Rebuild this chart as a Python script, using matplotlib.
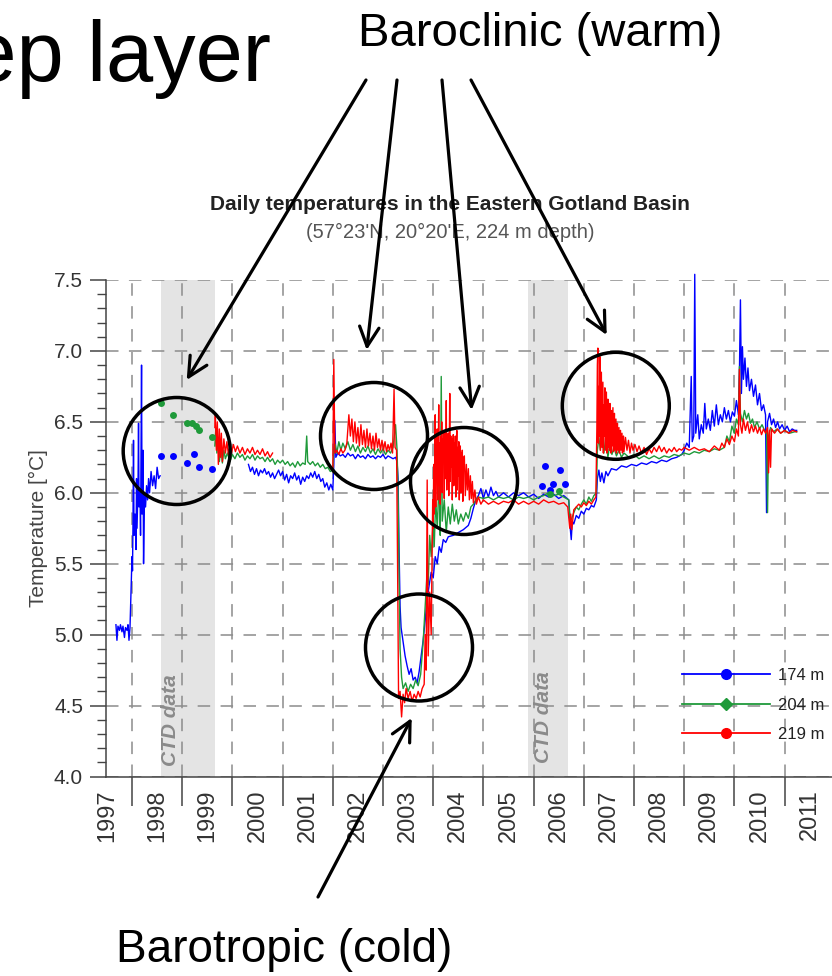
import numpy as np
import matplotlib
matplotlib.use("Agg")
import matplotlib.pyplot as plt
from matplotlib import font_manager as fm
from matplotlib.patches import Ellipse
from matplotlib.lines import Line2D

_names = {f.name for f in fm.fontManager.ttflist}
SANS = "Liberation Sans" if "Liberation Sans" in _names else "DejaVu Sans"
NARROW = "Liberation Sans Narrow" if "Liberation Sans Narrow" in _names else SANS
plt.rcParams["font.family"] = [SANS, "DejaVu Sans"]
plt.rcParams["lines.scale_dashes"] = False

NAN = float("nan")

# ---- daily bottom-water temperature records: (decimal year, degC) ----
t_174 = [
    1997.68, 1997.70, 1997.72, 1997.75, 1997.77, 1997.80, 1997.82, 1997.85, 1997.87, 1997.90,
    1997.92, 1997.94, 1997.96, 1997.98, 1998.00, 1998.01, 1998.02, 1998.03, 1998.04, 1998.06,
    1998.08, 1998.09, 1998.10, 1998.12, 1998.13, 1998.14, 1998.16, 1998.17, 1998.19, 1998.20,
    1998.22, 1998.23, 1998.25, 1998.27, 1998.29, 1998.31, 1998.33, 1998.35, 1998.38, 1998.41,
    1998.44, 1998.47, 1998.50, 1998.53, 1998.56, 1999.40,
    2000.32, 2000.36, 2000.40, 2000.44, 2000.48, 2000.52, 2000.56, 2000.60, 2000.64, 2000.68,
    2000.72, 2000.76, 2000.80, 2000.84, 2000.88, 2000.92, 2000.96, 2001.00, 2001.04, 2001.08,
    2001.12, 2001.16, 2001.20, 2001.24, 2001.28, 2001.32, 2001.36, 2001.40, 2001.44, 2001.48,
    2001.52, 2001.56, 2001.60, 2001.64, 2001.68, 2001.72, 2001.76, 2001.80, 2001.84, 2001.88,
    2001.92, 2001.96, 2002.00, 2002.02, 2002.04, 2002.06, 2002.10, 2002.15, 2002.20, 2002.25,
    2002.30, 2002.35, 2002.40, 2002.45, 2002.50, 2002.55, 2002.60, 2002.65, 2002.70, 2002.75,
    2002.80, 2002.85, 2002.90, 2002.95, 2003.00, 2003.05, 2003.10, 2003.15, 2003.20, 2003.25,
    2003.28, 2003.30, 2003.32, 2003.34, 2003.36, 2003.40, 2003.44, 2003.48, 2003.52, 2003.56,
    2003.60, 2003.64, 2003.68, 2003.72, 2003.76, 2003.80, 2003.84, 2003.88, 2003.92, 2003.96,
    2004.00, 2004.04, 2004.08, 2004.12, 2004.16, 2004.20, 2004.25, 2004.30, 2004.40, 2004.50,
    2004.60, 2004.70, 2004.75, 2004.80, 2004.85, 2004.90, 2004.95, 2005.00, 2005.05, 2005.10,
    2005.15, 2005.20, 2005.25, 2005.30, 2005.40, 2005.50, 2005.60, 2005.70, 2005.80, 2005.90,
    2006.00, 2006.10, 2006.20, 2006.30, 2006.40, 2006.50, 2006.60, 2006.70, 2006.73, 2006.75,
    2006.77, 2006.80, 2006.85, 2006.90, 2006.95, 2007.00, 2007.05, 2007.10, 2007.15, 2007.20,
    2007.25, 2007.27, 2007.30, 2007.33, 2007.36, 2007.40, 2007.44, 2007.48, 2007.55, 2007.65,
    2007.75, 2007.85, 2007.95, 2008.05, 2008.15, 2008.25, 2008.35, 2008.45, 2008.55, 2008.65,
    2008.75, 2008.85, 2008.95, 2009.00, 2009.05, 2009.10, 2009.14, 2009.16, 2009.19, 2009.21,
    2009.23, 2009.27, 2009.30, 2009.34, 2009.38, 2009.41, 2009.44, 2009.48, 2009.52, 2009.56,
    2009.60, 2009.64, 2009.68, 2009.72, 2009.76, 2009.80, 2009.84, 2009.88, 2009.92, 2009.96,
    2010.00, 2010.04, 2010.08, 2010.10, 2010.12, 2010.14, 2010.16, 2010.18, 2010.21, 2010.24,
    2010.27, 2010.30, 2010.34, 2010.38, 2010.42, 2010.46, 2010.50, 2010.54, 2010.58, 2010.62,
    2010.64, 2010.66, 2010.70, 2010.74, 2010.78, 2010.82, 2010.86, 2010.90, 2010.95, 2011.00,
    2011.05, 2011.10, 2011.15, 2011.20, 2011.24,
]
v_174 = [
    5.07, 4.96, 5.06, 5.03, 5.07, 5.02, 5.06, 4.98, 5.05, 5.03,
    5.07, 4.96, 5.05, 5.30, 5.55, 5.45, 5.80, 6.37, 5.70, 5.85,
    5.60, 6.10, 5.75, 6.05, 6.49, 5.90, 6.00, 5.70, 6.90, 5.85,
    6.30, 5.50, 6.00, 5.90, 6.05, 5.95, 6.10, 6.00, 6.15, 6.05,
    6.12, 6.03, 6.18, 6.10, 6.12, NAN,
    6.20, 6.15, 6.18, 6.13, 6.17, 6.12, 6.16, 6.14, 6.17, 6.13,
    6.15, 6.11, 6.14, 6.10, 6.13, 6.16, 6.12, 6.15, 6.09, 6.13,
    6.07, 6.12, 6.10, 6.14, 6.09, 6.12, 6.06, 6.11, 6.08, 6.12,
    6.10, 6.14, 6.11, 6.15, 6.10, 6.13, 6.08, 6.10, 6.04, 6.07,
    6.02, 6.06, 6.02, 6.20, 6.51, 6.25, 6.28, 6.26, 6.27, 6.25,
    6.28, 6.26, 6.27, 6.24, 6.27, 6.25, 6.26, 6.24, 6.27, 6.25,
    6.26, 6.24, 6.26, 6.25, 6.27, 6.24, 6.26, 6.25, 6.24, 6.25,
    6.22, 6.10, 5.60, 5.20, 5.05, 4.95, 4.85, 4.78, 4.72, 4.76,
    4.68, 4.70, 4.66, 4.74, 4.85, 4.96, 5.10, 5.25, 5.35, 5.44,
    5.40, 5.55, 5.50, 5.62, 5.58, 5.67, 5.65, 5.69, 5.70, 5.72,
    5.74, 5.77, 5.82, 5.89, 5.95, 5.98, 6.03, 5.96, 6.02, 5.97,
    6.04, 5.98, 6.01, 5.97, 6.00, 5.97, 6.00, 5.98, 6.00, 5.97,
    5.99, 5.96, 5.99, 5.97, 5.99, 5.96, 5.98, 5.95, 5.75, 5.67,
    5.80, 5.78, 5.84, 5.82, 5.87, 5.85, 5.89, 5.88, 5.91, 5.90,
    5.95, 6.10, 6.16, 6.08, 6.14, 6.07, 6.15, 6.12, 6.17, 6.16,
    6.19, 6.18, 6.20, 6.19, 6.21, 6.20, 6.22, 6.21, 6.23, 6.22,
    6.24, 6.25, 6.27, 6.30, 6.35, 6.32, 6.82, 6.36, 6.40, 7.54,
    6.42, 6.55, 6.38, 6.48, 6.42, 6.63, 6.45, 6.52, 6.44, 6.58,
    6.47, 6.62, 6.48, 6.55, 6.50, 6.60, 6.52, 6.58, 6.50, 6.57,
    6.54, 6.65, 6.55, 6.85, 7.36, 6.70, 7.03, 6.80, 6.95, 6.75,
    6.88, 6.72, 6.80, 6.68, 6.76, 6.62, 6.70, 6.58, 6.62, 6.55,
    5.86, 6.50, 6.56, 6.48, 6.52, 6.46, 6.50, 6.45, 6.48, 6.44,
    6.47, 6.43, 6.45, 6.44, 6.44,
]

t_204 = [
    1999.65, 1999.67, 1999.69, 1999.72, 1999.74, 1999.77, 1999.80, 1999.83, 1999.86, 1999.90,
    1999.95, 2000.00, 2000.05, 2000.10, 2000.15, 2000.20, 2000.25, 2000.30, 2000.35, 2000.40,
    2000.45, 2000.50, 2000.55, 2000.60, 2000.65, 2000.70, 2000.75, 2000.80, 2000.85, 2000.90,
    2000.95, 2001.00, 2001.05, 2001.10, 2001.15, 2001.20, 2001.25, 2001.30, 2001.35, 2001.40,
    2001.45, 2001.48, 2001.50, 2001.55, 2001.60, 2001.65, 2001.70, 2001.75, 2001.80, 2001.85,
    2001.90, 2001.95, 2002.00, 2002.02, 2002.05, 2002.08, 2002.12, 2002.16, 2002.20, 2002.25,
    2002.30, 2002.35, 2002.40, 2002.45, 2002.50, 2002.55, 2002.60, 2002.65, 2002.70, 2002.75,
    2002.80, 2002.85, 2002.90, 2002.95, 2003.00, 2003.05, 2003.10, 2003.15, 2003.20, 2003.25,
    2003.28, 2003.30, 2003.32, 2003.34, 2003.37, 2003.40, 2003.45, 2003.50, 2003.55, 2003.60,
    2003.65, 2003.70, 2003.75, 2003.80, 2003.84, 2003.88, 2003.90, 2003.93, 2003.96, 2004.00,
    2004.02, 2004.05, 2004.08, 2004.12, 2004.14, 2004.16, 2004.18, 2004.22, 2004.26, 2004.30,
    2004.34, 2004.38, 2004.42, 2004.46, 2004.50, 2004.55, 2004.60, 2004.65, 2004.70, 2004.75,
    2004.80, 2004.85, 2004.90, 2005.00, 2005.10, 2005.20, 2005.30, 2005.40, 2005.50, 2005.60,
    2005.70, 2005.80, 2005.90, 2006.00, 2006.10, 2006.20, 2006.30, 2006.40, 2006.50, 2006.60,
    2006.70, 2006.73, 2006.76, 2006.80, 2006.85, 2006.90, 2006.95, 2007.00, 2007.05, 2007.10,
    2007.15, 2007.20, 2007.25, 2007.27, 2007.30, 2007.33, 2007.36, 2007.40, 2007.44, 2007.48,
    2007.52, 2007.56, 2007.60, 2007.65, 2007.70, 2007.75, 2007.80, 2007.90, 2008.00, 2008.10,
    2008.20, 2008.30, 2008.40, 2008.50, 2008.60, 2008.70, 2008.80, 2008.90, 2009.00, 2009.10,
    2009.20, 2009.30, 2009.40, 2009.50, 2009.60, 2009.70, 2009.80, 2009.85, 2009.90, 2009.95,
    2010.00, 2010.04, 2010.08, 2010.10, 2010.12, 2010.16, 2010.20, 2010.24, 2010.28, 2010.32,
    2010.36, 2010.40, 2010.45, 2010.50, 2010.55, 2010.60, 2010.64, 2010.66, 2010.68, 2010.72,
    2010.78, 2010.85, 2010.92, 2011.00, 2011.10, 2011.20, 2011.24,
]
v_204 = [
    6.33, 6.45, 6.28, 6.38, 6.22, 6.32, 6.21, 6.30, 6.24, 6.28,
    6.22, 6.27, 6.24, 6.28, 6.25, 6.27, 6.23, 6.26, 6.24, 6.27,
    6.23, 6.26, 6.24, 6.25, 6.22, 6.25, 6.22, 6.24, 6.20, 6.23,
    6.21, 6.23, 6.20, 6.22, 6.19, 6.21, 6.18, 6.22, 6.19, 6.21,
    6.20, 6.40, 6.22, 6.20, 6.22, 6.19, 6.21, 6.18, 6.20, 6.17,
    6.18, 6.15, 6.16, 6.30, 6.34, 6.28, 6.36, 6.30, 6.35, 6.31,
    6.36, 6.30, 6.34, 6.29, 6.33, 6.28, 6.32, 6.29, 6.33, 6.28,
    6.31, 6.27, 6.31, 6.28, 6.31, 6.27, 6.30, 6.28, 6.32, 6.48,
    6.30, 6.00, 5.40, 4.90, 4.70, 4.62, 4.66, 4.60, 4.65, 4.62,
    4.68, 4.64, 4.72, 4.95, 5.20, 5.45, 5.35, 5.70, 5.55, 5.80,
    5.62, 5.95, 5.75, 6.10, 5.70, 6.82, 5.80, 5.95, 5.72, 5.90,
    5.78, 5.92, 5.80, 5.88, 5.78, 5.85, 5.80, 5.86, 5.82, 5.90,
    5.92, 5.95, 5.97, 5.96, 5.97, 5.95, 5.97, 5.96, 5.97, 5.95,
    5.97, 5.96, 5.97, 5.95, 5.97, 5.98, 6.00, 5.98, 5.99, 5.97,
    5.95, 5.80, 5.82, 5.86, 5.90, 5.88, 5.92, 5.95, 5.92, 5.97,
    5.94, 5.98, 6.00, 6.30, 6.39, 6.30, 6.45, 6.28, 6.40, 6.25,
    6.35, 6.27, 6.32, 6.26, 6.30, 6.25, 6.28, 6.25, 6.27, 6.24,
    6.26, 6.24, 6.26, 6.24, 6.26, 6.25, 6.27, 6.26, 6.28, 6.27,
    6.29, 6.28, 6.30, 6.29, 6.31, 6.30, 6.32, 6.40, 6.36, 6.47,
    6.42, 6.52, 6.48, 6.89, 6.56, 6.50, 6.58, 6.52, 6.56, 6.49,
    6.52, 6.46, 6.50, 6.45, 6.48, 6.44, 6.42, 5.86, 6.40, 6.46,
    6.43, 6.45, 6.42, 6.44, 6.42, 6.43, 6.43,
]

obs_219 = [
    (1999.65, 6.46), (1999.66, 6.56), (1999.68, 6.30), (1999.70, 6.50), (1999.72, 6.20),
    (1999.74, 6.45), (1999.76, 6.25), (1999.78, 6.42), (1999.80, 6.22), (1999.83, 6.38),
    (1999.86, 6.28), (1999.89, 6.36), (1999.92, 6.27), (1999.95, 6.33), (1999.98, 6.28),
    (2000.02, 6.34), (2000.06, 6.29), (2000.10, 6.33), (2000.15, 6.28), (2000.20, 6.32),
    (2000.25, 6.27), (2000.30, 6.31), (2000.35, 6.28), (2000.40, 6.32), (2000.45, 6.27),
    (2000.50, 6.30), (2000.55, 6.27), (2000.60, 6.31), (2000.65, 6.26), (2000.70, 6.29),
    (2000.75, 6.25), (2000.80, 6.28), (2000.85, NAN),
    (2002.00, 6.15), (2002.02, 6.94), (2002.04, 6.28), (2002.08, 6.30), (2002.12, 6.27),
    (2002.16, 6.31), (2002.20, 6.28), (2002.24, 6.30), (2002.28, 6.35), (2002.32, 6.55),
    (2002.35, 6.40), (2002.38, 6.52), (2002.41, 6.36), (2002.44, 6.50), (2002.47, 6.35),
    (2002.50, 6.46), (2002.53, 6.33), (2002.56, 6.48), (2002.59, 6.34), (2002.62, 6.44),
    (2002.65, 6.32), (2002.68, 6.45), (2002.71, 6.33), (2002.74, 6.42), (2002.77, 6.31),
    (2002.80, 6.40), (2002.83, 6.30), (2002.86, 6.42), (2002.89, 6.32), (2002.92, 6.38),
    (2002.95, 6.30), (2002.98, 6.37), (2003.01, 6.30), (2003.04, 6.36), (2003.07, 6.29),
    (2003.10, 6.34), (2003.13, 6.30), (2003.16, 6.35), (2003.19, 6.28), (2003.22, 6.73),
    (2003.24, 6.32), (2003.27, 6.30), (2003.29, 5.50), (2003.31, 4.55), (2003.34, 4.60),
    (2003.37, 4.42), (2003.40, 4.58), (2003.43, 4.52), (2003.46, 4.62), (2003.50, 4.55),
    (2003.54, 4.60), (2003.58, 4.53), (2003.62, 4.58), (2003.66, 4.55), (2003.70, 4.60),
    (2003.74, 4.56), (2003.78, 4.62), (2003.82, 4.65), (2003.84, 5.00), (2003.86, 4.75),
    (2003.88, 6.09), (2003.90, 4.85), (2003.93, 5.30), (2003.96, 5.00), (2003.98, 5.60),
    (2003.99, 5.95), (2004.00, 5.75), (2004.01, 6.20), (2004.02, 5.85), (2004.03, 6.05),
    (2004.04, 6.55), (2004.05, 5.90), (2004.06, 6.30), (2004.07, 6.10), (2004.08, 6.45),
    (2004.09, 5.95), (2004.10, 6.25), (2004.11, 6.62), (2004.12, 6.05), (2004.13, 6.35),
    (2004.14, 5.92), (2004.15, 6.40), (2004.16, 6.15), (2004.17, 6.50), (2004.18, 6.00),
    (2004.19, 6.38), (2004.20, 6.22), (2004.21, 6.44), (2004.22, 5.96), (2004.23, 6.30),
    (2004.24, 6.42), (2004.25, 6.10), (2004.26, 6.65), (2004.27, 6.02), (2004.28, 6.36),
    (2004.29, 6.20), (2004.30, 6.42), (2004.31, 5.98), (2004.32, 6.33), (2004.33, 6.70),
    (2004.34, 6.08), (2004.35, 6.40), (2004.36, 6.18), (2004.37, 6.38), (2004.38, 5.95),
    (2004.39, 6.30), (2004.40, 6.41), (2004.41, 6.05), (2004.42, 6.35), (2004.43, 6.15),
    (2004.44, 6.40), (2004.45, 5.97), (2004.46, 6.28), (2004.47, 6.44), (2004.48, 6.02),
    (2004.49, 6.32), (2004.50, 6.12), (2004.51, 6.36), (2004.52, 5.95), (2004.53, 6.25),
    (2004.54, 6.33), (2004.55, 6.00), (2004.56, 6.28), (2004.57, 6.10), (2004.58, 6.30),
    (2004.59, 5.94), (2004.60, 6.22), (2004.62, 6.26), (2004.64, 5.98), (2004.66, 6.20),
    (2004.68, 6.02), (2004.70, 6.17), (2004.72, 5.95), (2004.74, 6.12), (2004.76, 5.96),
    (2004.78, 6.08), (2004.80, 5.93), (2004.83, 6.02), (2004.86, 5.92), (2004.90, 5.97),
    (2004.95, 5.92), (2005.00, 5.95), (2005.10, 5.92), (2005.20, 5.94), (2005.30, 5.92),
    (2005.40, 5.94), (2005.50, 5.93), (2005.60, 5.95), (2005.70, 5.92), (2005.80, 5.94),
    (2005.90, 5.92), (2006.00, 5.94), (2006.10, 5.92), (2006.20, 5.95), (2006.30, 5.93),
    (2006.40, 5.94), (2006.50, 5.92), (2006.60, 5.93), (2006.68, 5.90), (2006.72, 5.75),
    (2006.74, 5.85), (2006.76, 5.74), (2006.80, 5.88), (2006.85, 5.90), (2006.90, 5.92),
    (2006.95, 5.90), (2007.00, 5.93), (2007.05, 5.91), (2007.10, 5.94), (2007.15, 5.92),
    (2007.20, 5.95), (2007.24, 5.97), (2007.25, 6.20), (2007.26, 6.45), (2007.27, 6.90),
    (2007.28, 7.02), (2007.29, 6.35), (2007.30, 6.75), (2007.31, 6.40), (2007.32, 6.96),
    (2007.33, 6.30), (2007.34, 6.60), (2007.35, 6.85), (2007.36, 6.32), (2007.37, 6.55),
    (2007.38, 6.78), (2007.39, 6.28), (2007.40, 6.62), (2007.41, 6.40), (2007.42, 6.74),
    (2007.43, 6.30), (2007.44, 6.50), (2007.45, 6.71), (2007.46, 6.28), (2007.47, 6.45),
    (2007.48, 6.66), (2007.49, 6.32), (2007.50, 6.55), (2007.51, 6.30), (2007.52, 6.63),
    (2007.53, 6.36), (2007.54, 6.28), (2007.55, 6.58), (2007.56, 6.33), (2007.57, 6.48),
    (2007.58, 6.60), (2007.59, 6.29), (2007.60, 6.45), (2007.61, 6.56), (2007.62, 6.30),
    (2007.63, 6.42), (2007.64, 6.52), (2007.65, 6.28), (2007.66, 6.40), (2007.67, 6.49),
    (2007.68, 6.30), (2007.69, 6.38), (2007.70, 6.46), (2007.71, 6.28), (2007.72, 6.40),
    (2007.73, 6.44), (2007.74, 6.30), (2007.75, 6.36), (2007.76, 6.42), (2007.77, 6.28),
    (2007.78, 6.35), (2007.79, 6.40), (2007.80, 6.29), (2007.83, 6.39), (2007.86, 6.30),
    (2007.89, 6.37), (2007.92, 6.28), (2007.95, 6.35), (2007.98, 6.30), (2008.02, 6.34),
    (2008.06, 6.29), (2008.10, 6.33), (2008.15, 6.28), (2008.20, 6.32), (2008.25, 6.27),
    (2008.30, 6.31), (2008.35, 6.28), (2008.40, 6.32), (2008.45, 6.29), (2008.50, 6.33),
    (2008.55, 6.29), (2008.60, 6.32), (2008.65, 6.28), (2008.70, 6.31), (2008.75, 6.29),
    (2008.80, 6.32), (2008.85, 6.29), (2008.90, 6.31), (2008.95, 6.30), (2009.00, 6.32),
    (2009.10, 6.30), (2009.20, 6.32), (2009.30, 6.30), (2009.40, 6.31), (2009.50, 6.29),
    (2009.60, 6.33), (2009.70, 6.30), (2009.75, 6.35), (2009.80, 6.32), (2009.85, 6.38),
    (2009.90, 6.34), (2009.95, 6.40), (2010.00, 6.36), (2010.04, 6.45), (2010.08, 6.40),
    (2010.10, 6.87), (2010.12, 6.48), (2010.15, 6.42), (2010.18, 6.52), (2010.22, 6.44),
    (2010.26, 6.50), (2010.30, 6.42), (2010.34, 6.48), (2010.38, 6.43), (2010.42, 6.47),
    (2010.46, 6.42), (2010.50, 6.46), (2010.54, 6.41), (2010.58, 6.45), (2010.62, 6.42),
    (2010.66, 6.46), (2010.68, 6.14), (2010.70, 6.44), (2010.72, 6.18), (2010.74, 6.45),
    (2010.80, 6.42), (2010.86, 6.45), (2010.92, 6.42), (2011.00, 6.44), (2011.08, 6.42),
    (2011.16, 6.44), (2011.24, 6.43),
]
t_219 = [p[0] for p in obs_219]
v_219 = [p[1] for p in obs_219]

# ---- CTD casts used where moorings were absent ----
ctd_t_174 = [1998.58, 1998.82, 1999.10, 1999.24, 1999.34, 1999.59,
             2006.16, 2006.23, 2006.33, 2006.39, 2006.53, 2006.63]
ctd_v_174 = [6.26, 6.26, 6.21, 6.27, 6.18, 6.17,
             6.05, 6.19, 6.02, 6.06, 6.16, 6.06]
ctd_t_204 = [1998.58, 1998.82, 1999.09, 1999.19, 1999.27, 1999.34, 1999.59,
             2006.33, 2006.50]
ctd_v_204 = [6.63, 6.55, 6.49, 6.49, 6.47, 6.44, 6.39,
             5.99, 6.01]

ctd_periods = [(1998.58, 1999.65), (2005.89, 2006.69)]
ctd_label_pos = [(1998.76, 4.40), (2006.19, 4.42)]

years = list(range(1997, 2012))
y_major = [4.0, 4.5, 5.0, 5.5, 6.0, 6.5, 7.0, 7.5]

depths = ["174 m", "204 m", "219 m"]
colors = ["#0000ff", "#1f9a3a", "#ff0000"]

# ---- figure layout in pixels ----
W, H = 832, 976
fig = plt.figure(figsize=(W / 100, H / 100), dpi=100)
fig.patch.set_facecolor("white")

X0, X1, YT, YB = 106, 832, 280, 776.5
ax = fig.add_axes([X0 / W, (H - YB) / H, (X1 - X0) / W, (YB - YT) / H])
ax.set_xlim(1997.482, 2011.944)
ax.set_ylim(4.0, 7.5)

for a, b in ctd_periods:
    ax.axvspan(a, b, color="#e4e4e4", lw=0, zorder=0)

dash = (0, (9, 7.5))
ax.set_xticks(years[1:])
ax.set_xticks([y + 0.5 for y in years], minor=True)
ax.set_xticklabels([])
ax.set_xticklabels([str(y) for y in years], minor=True, rotation=90,
                   fontsize=17, color="#333333")
ax.tick_params(axis="x", which="major", direction="out", length=21, width=1.1,
               color="#444444")
ax.tick_params(axis="x", which="minor", length=0, pad=9)

ax.set_yticks(y_major)
ax.set_yticks(np.arange(4.0, 7.51, 0.1), minor=True)
ax.set_yticklabels([f"{v:.1f}" for v in y_major], fontsize=15, color="#333333",
                   family=[NARROW, "DejaVu Sans"])
ax.tick_params(axis="y", which="major", direction="out", length=11.5, width=1.1,
               color="#444444", pad=5)
ax.tick_params(axis="y", which="minor", direction="out", length=6.5, width=1.0,
               color="#444444")

ax.grid(which="major", color="#8c8c8c", lw=1.1, linestyle=dash)
ax.set_axisbelow(True)
for s in ("top", "right"):
    ax.spines[s].set_visible(False)
for s in ("left", "bottom"):
    ax.spines[s].set_color("#444444")
    ax.spines[s].set_linewidth(1.1)

ax.set_ylabel("Temperature [°C]", fontsize=15, color="#444444",
              family=[NARROW, "DejaVu Sans"], labelpad=4)

for t, v, c in ((t_174, v_174, colors[0]), (t_204, v_204, colors[1]),
                (t_219, v_219, colors[2])):
    ax.plot(t, v, color=c, lw=1.0, clip_on=False, zorder=2)

ax.plot(ctd_t_174, ctd_v_174, "o", color=colors[0], ms=5, mec="none", zorder=2)
ax.plot(ctd_t_204, ctd_v_204, "o", color=colors[1], ms=5, mec="none", zorder=2)

for x, y in ctd_label_pos:
    ax.text(x, y, "CTD data", rotation=90, ha="center", va="center",
            fontsize=15, style="italic", weight="bold", color="#8a8a8a", zorder=1)

# ---- overlay in pixel coordinates for slide text and callouts ----
ov = fig.add_axes([0, 0, 1, 1], facecolor="none")
ov.set_xlim(0, W)
ov.set_ylim(H, 0)
ov.axis("off")

handles = [Line2D([], [], color=colors[0], lw=1.3, marker="o", ms=7),
           Line2D([], [], color=colors[1], lw=1.3, marker="D", ms=6),
           Line2D([], [], color=colors[2], lw=1.3, marker="o", ms=7)]
leg = ax.legend(handles, depths, loc="upper left", bbox_to_anchor=(682, 668),
                bbox_transform=ov.transData, frameon=False, borderpad=0,
                borderaxespad=0, handlelength=5.3, handletextpad=0.48,
                labelspacing=0.88, numpoints=1,
                prop={"family": [NARROW, "DejaVu Sans"], "size": 12})
for txt in leg.get_texts():
    txt.set_color("#222222")

ov.text(450, 205, "Daily temperatures in the Eastern Gotland Basin", ha="center",
        va="center", fontsize=15, weight="bold", color="#222222",
        family=[NARROW, "DejaVu Sans"])
ov.text(450, 232, "(57°23'N, 20°20'E, 224 m depth)", ha="center", va="center",
        fontsize=14.5, color="#555555", family=[NARROW, "DejaVu Sans"])

ov.text(271, 81, "Deep layer", ha="right", va="baseline", fontsize=61,
        color="black", clip_on=False)
ov.text(540, 46, "Baroclinic (warm)", ha="center", va="baseline", fontsize=34,
        color="black")
ov.text(284, 962, "Barotropic (cold)", ha="center", va="baseline", fontsize=33,
        color="black")

circles = [(176.7, 451.0), (374.0, 436.0), (464.0, 481.0), (419.0, 647.5),
           (615.8, 405.8)]
for cx, cy in circles:
    ov.add_patch(Ellipse((cx, cy), 107, 107, fill=False, ec="black", lw=2.5))

arrows = [((366, 80), (186.7, 380)), ((397, 80), (366.7, 350)),
          ((442, 80), (471.7, 410)), ((471, 80), (606.7, 335)),
          ((318, 897), (411.7, 718))]
for start, tip in arrows:
    ov.annotate("", xy=tip, xytext=start,
                arrowprops=dict(arrowstyle="->,head_length=1.4,head_width=0.7",
                                lw=2.3, color="black", shrinkA=0, shrinkB=0))

fig.savefig("out.png", dpi=100)
